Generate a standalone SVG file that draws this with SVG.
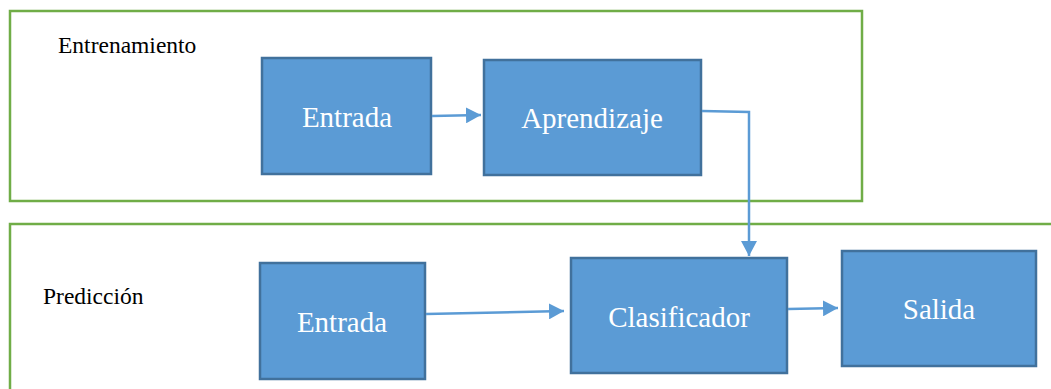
<svg xmlns="http://www.w3.org/2000/svg" width="1051" height="389" viewBox="0 0 1051 389">
  <style>
    .frame { fill: none; stroke: #70AD47; stroke-width: 2.5; }
    .box { fill: #5B9BD5; stroke: #41719C; stroke-width: 2.5; }
    .boxtext { font-family: 'Liberation Serif', 'DejaVu Serif', serif; font-size: 29px; fill: #FFFFFF; text-anchor: middle; }
    .label { font-family: 'Liberation Serif', 'DejaVu Serif', serif; font-size: 23.5px; fill: #000000; }
    .conn { fill: none; stroke: #5B9BD5; stroke-width: 2.5; }
  </style>
  <defs>
    <marker id="arrow" markerUnits="userSpaceOnUse" markerWidth="16" markerHeight="16" refX="15" refY="8" orient="auto">
      <path d="M0,0 L15,8 L0,16 Z" fill="#5B9BD5"/>
    </marker>
  </defs>
  <rect width="1051" height="389" fill="#FFFFFF"/>

  <!-- Training stage -->
  <g id="frame-entrenamiento">
    <rect class="frame" x="10" y="11" width="852" height="190"/>
    <text class="label" x="58" y="53">Entrenamiento</text>
  </g>

  <!-- Prediction stage -->
  <g id="frame-prediccion">
    <rect class="frame" x="10" y="224" width="1060" height="200"/>
    <text class="label" x="43" y="304">Predicción</text>
  </g>

  <g id="node-entrada-train">
    <rect class="box" x="262" y="58" width="169" height="116"/>
    <text class="boxtext" x="347" y="127">Entrada</text>
  </g>

  <g id="node-aprendizaje">
    <rect class="box" x="484" y="60" width="217" height="115"/>
    <text class="boxtext" x="592" y="128">Aprendizaje</text>
  </g>

  <g id="node-entrada-pred">
    <rect class="box" x="260" y="263" width="165" height="116"/>
    <text class="boxtext" x="342" y="332">Entrada</text>
  </g>

  <g id="node-clasificador">
    <rect class="box" x="571" y="258" width="216" height="115"/>
    <text class="boxtext" x="679" y="327">Clasificador</text>
  </g>

  <g id="node-salida">
    <rect class="box" x="842" y="251" width="194" height="115"/>
    <text class="boxtext" x="939" y="319">Salida</text>
  </g>

  <g id="connectors">
    <line class="conn" x1="432" y1="116" x2="481" y2="115" marker-end="url(#arrow)"/>
    <path class="conn" d="M702,111 L749,112 L749,256" stroke-width="2" marker-end="url(#arrow)"/>
    <line class="conn" x1="426" y1="314" x2="564" y2="311" marker-end="url(#arrow)"/>
    <line class="conn" x1="788" y1="309" x2="838" y2="308" marker-end="url(#arrow)"/>
  </g>
</svg>
